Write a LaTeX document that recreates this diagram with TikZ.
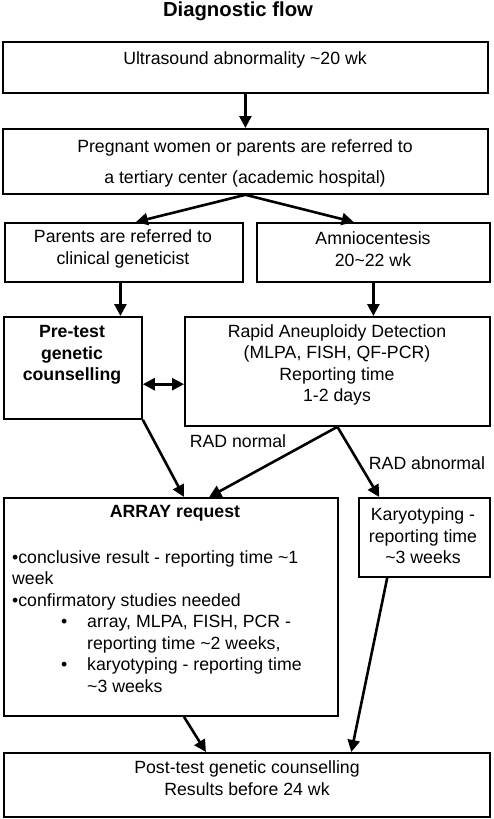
\documentclass[tikz,border=0pt]{standalone}
\usepackage{fontspec}
\setmainfont{Liberation Sans}
\usetikzlibrary{arrows.meta,calc}
\newcommand\fs{\fontsize{17.7pt}{21.5pt}\selectfont}
\tikzset{
  box/.style={draw, line width=1.8pt, inner sep=0pt, anchor=north west},
  txt/.style={font=\fs, align=center, inner sep=0pt},
  arr/.style={line width=2.6pt, -{Triangle[length=12pt,width=12pt]}},
  dbl/.style={line width=2.6pt, {Triangle[length=12pt,width=12pt]}-{Triangle[length=12pt,width=12pt]}},
}
\begin{document}
\begin{tikzpicture}[x=1pt,y=-1pt]
\useasboundingbox (0,0) rectangle (493,819);
% title
\node[font=\fontsize{20.3pt}{24pt}\selectfont\bfseries, inner sep=0pt] (title) at (238,11) {Diagnostic flow};
% boxes
\node[box, minimum width=485pt, minimum height=51pt] (b1) at (2,41) {};
\node[box, minimum width=485pt, minimum height=65pt] (b2) at (2,128) {};
\node[box, minimum width=238pt, minimum height=59pt] (b3l) at (4,222) {};
\node[box, minimum width=233pt, minimum height=59pt] (b3r) at (256,222) {};
\node[box, minimum width=138pt, minimum height=102pt] (pre) at (3,316) {};
\node[box, minimum width=305pt, minimum height=109pt] (rad) at (184,316) {};
\node[box, minimum width=334pt, minimum height=218pt] (array) at (3,497) {};
\node[box, minimum width=131pt, minimum height=79pt] (karyo) at (358,497) {};
\node[box, minimum width=486pt, minimum height=64pt] (post) at (3,752) {};
% texts
\node[txt] (t1) at (245,60) {Ultrasound abnormality \textasciitilde 20 wk};
\node[txt] (t2) at (245,163) {Pregnant women or parents are referred to\\[9.5pt] a tertiary center (academic hospital)};
\node[txt] (t3l) at (123,249) {Parents are referred to\\ clinical geneticist};
\node[txt] (t3r) at (373,249) {Amniocentesis\\ 20\textasciitilde 22 wk};
\node[txt, font=\fs\bfseries] (tpre) at (72,355) {Pre-test\\ genetic\\ counselling};
\node[txt] (trad) at (337,365) {Rapid Aneuploidy Detection\\ (MLPA, FISH, QF-PCR)\\ Reporting time\\ 1-2 days};
\node[txt, font=\fs\bfseries] (tarr) at (175,513) {ARRAY request};
\node[txt, align=left, anchor=north west] (tlist) at (12,550) {•conclusive result - reporting time \textasciitilde 1\\ week\\ •confirmatory studies needed\\ \hspace*{49pt}\makebox[26pt][l]{•}array, MLPA, FISH, PCR -\\ \hspace*{75pt}reporting time \textasciitilde 2 weeks,\\ \hspace*{49pt}\makebox[26pt][l]{•}karyotyping - reporting time\\ \hspace*{75pt}\textasciitilde 3 weeks};
\node[txt] (tkar) at (423,536) {Karyotyping -\\ reporting time\\ \textasciitilde 3 weeks};
\node[txt] (tpost) at (247,778) {Post-test genetic counselling\\ Results before 24 wk};
\node[txt] (lnorm) at (238,441) {RAD normal};
\node[txt] (labn) at (427,463) {RAD abnormal};
% connector end points
\coordinate (c2l) at ($(b3l.north west)!0.55!(b3l.north east)$);
\coordinate (c2r) at ($(b3r.north west)!0.416!(b3r.north east)$);
\coordinate (c4) at ($(pre.north west)!0.84!(pre.north east)$);
\coordinate (c6) at ($(pre.north east)!0.657!(pre.south east)$);
\coordinate (c7) at ($(array.north west)!0.539!(array.north east)$);
\coordinate (c8) at ($(array.north west)!0.614!(array.north east)$);
\coordinate (c9) at ($(karyo.north west)!0.16!(karyo.north east)$);
\coordinate (c10s) at ($(array.south west)!0.539!(array.south east)$);
\coordinate (c10e) at ($(post.north west)!0.416!(post.north east)$);
\coordinate (c11s) at ($(karyo.south west)!0.22!(karyo.south east)$);
\coordinate (c11e) at ($(post.north west)!0.714!(post.north east)$);
% connectors
\draw[arr] (b1.south) -- (b2.north);
\draw[arr] (b2.south) -- (c2l);
\draw[arr] (b2.south) -- (c2r);
\draw[arr] (b3l.south -| c4) -- (c4);
\draw[arr] (b3r.south) -- (b3r.south |- rad.north);
\draw[dbl] (c6) -- (c6 -| rad.west);
\draw[arr] (pre.south east) -- (c7);
\draw[arr] (rad.south) -- (c8);
\draw[arr] (rad.south) -- (c9);
\draw[arr] (c10s) -- (c10e);
\draw[arr] (c11s) -- (c11e);
\end{tikzpicture}
\end{document}
